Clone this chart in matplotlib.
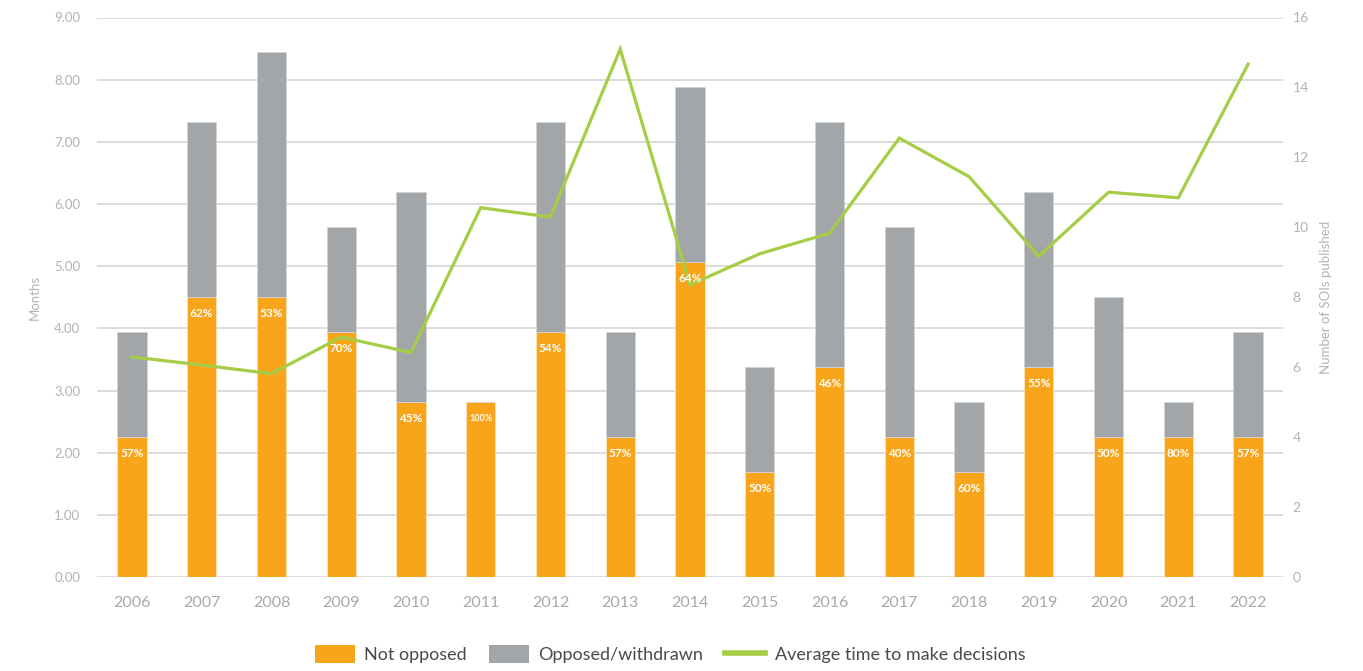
import matplotlib
matplotlib.use("Agg")
import matplotlib.pyplot as plt
from matplotlib.patches import Patch
from matplotlib.lines import Line2D
import numpy as np

years = ["2006", "2007", "2008", "2009", "2010", "2011", "2012", "2013", "2014",
         "2015", "2016", "2017", "2018", "2019", "2020", "2021", "2022"]
not_opposed = [4, 8, 8, 7, 5, 5, 7, 4, 9, 3, 6, 4, 3, 6, 4, 4, 4]
opposed = [3, 5, 7, 3, 6, 0, 6, 3, 5, 3, 7, 6, 2, 5, 4, 1, 3]
pct_labels = ["57%", "62%", "53%", "70%", "45%", "100%", "54%", "57%", "64%",
              "50%", "46%", "40%", "60%", "55%", "50%", "80%", "57%"]
avg_months = [3.54, 3.41, 3.27, 3.86, 3.61, 5.94, 5.79, 8.49, 4.70,
              5.20, 5.53, 7.06, 6.44, 5.16, 6.19, 6.10, 8.25]
month_ticks = [0, 1, 2, 3, 4, 5, 6, 7, 8, 9]
count_ticks = [0, 2, 4, 6, 8, 10, 12, 14, 16]

ORANGE = "#F9A51C"
GREY = "#A3A6A9"
GREEN = "#A5CD45"
TICK = "#B3B3B3"
GRID = "#D6D6D6"

plt.rcParams["font.family"] = ["Lato", "DejaVu Sans"]

MAX_M, MAX_C = 9.0, 16.0
c2m = lambda c: np.asarray(c) * MAX_M / MAX_C
m2c = lambda m: np.asarray(m) * MAX_C / MAX_M

fig = plt.figure(figsize=(13.63, 6.71), dpi=100)
ax = fig.add_axes([97 / 1363, 94 / 671, 1186 / 1363, 559.5 / 671])

x = np.arange(len(years))
w = 0.42
no_m = c2m(not_opposed)
op_m = c2m(opposed)
ax.bar(x, no_m, width=w, color=ORANGE, edgecolor="#FDE3B8", linewidth=0.6, zorder=2)
ax.bar(x, op_m, width=w, bottom=no_m, color=GREY, edgecolor="#D3D4D6", linewidth=0.6, zorder=2)

for xi, top, lab in zip(x, no_m, pct_labels):
    ax.annotate(lab, (xi, top), xytext=(0, -11.5), textcoords="offset points",
                ha="center", va="center", color="white", fontweight="bold",
                fontsize=6.5 if lab == "100%" else 8.5, zorder=4)

ax.plot(x, avg_months, color=GREEN, linewidth=2.3, zorder=3, solid_joinstyle="miter")

ax.set_xlim(-0.5, len(years) - 0.5)
ax.set_ylim(0, MAX_M)
ax.set_yticks(month_ticks)
ax.set_yticklabels([f"{v:.2f}" for v in month_ticks])
ax.set_xticks(x)
ax.set_xticklabels(years)
ax.grid(axis="y", color=GRID, linewidth=1.2, zorder=0)
ax.set_axisbelow(True)
for s in ax.spines.values():
    s.set_visible(False)
ax.tick_params(axis="y", length=0, pad=12, labelsize=9.5, labelcolor=TICK)
ax.tick_params(axis="x", length=0, pad=14, labelsize=11.5, labelcolor="#A8A8A8")
ax.set_ylabel("Months", color=TICK, fontsize=9.5, labelpad=10)

sec = ax.secondary_yaxis("right", functions=(m2c, c2m))
sec.set_yticks(count_ticks)
sec.spines["right"].set_visible(False)
sec.tick_params(axis="y", length=0, pad=7, labelsize=10, labelcolor=TICK)
sec.set_ylabel("Number of SOIs published", color=TICK, fontsize=9.5, labelpad=8)

handles = [Patch(facecolor=ORANGE, edgecolor="none"),
           Patch(facecolor=GREY, edgecolor="none"),
           Line2D([0], [0], color=GREEN, linewidth=4)]
labels = ["Not opposed", "Opposed/withdrawn", "Average time to make decisions"]
fig.legend(handles, labels, loc="center", bbox_to_anchor=(0.4916, 0.025), ncol=3,
           frameon=False, fontsize=13, handlelength=2.2, handleheight=1.1,
           handletextpad=0.55, columnspacing=1.2, labelcolor="#4A4A4A")

fig.savefig("out.png", dpi=100)
